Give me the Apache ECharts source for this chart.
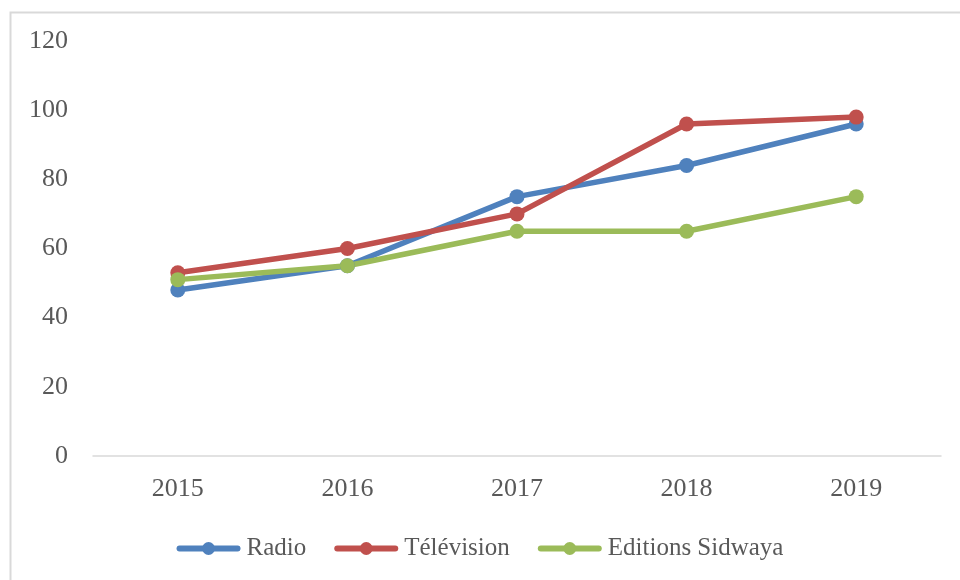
<!DOCTYPE html>
<html><head><meta charset="utf-8">
<script src="https://cdn.jsdelivr.net/npm/echarts@6/dist/echarts.min.js"></script>
<style>html,body{margin:0;padding:0;background:#fff}#c{width:960px;height:580px}</style>
</head><body><div id="c"></div>
<script>
const categories = ['2015','2016','2017','2018','2019'];
const radio = [48, 55, 75, 84, 96];
const television = [53, 60, 70, 96, 98];
const sidwaya = [51, 55, 65, 65, 75];
const seriesNames = ['Radio','Télévision','Editions Sidwaya'];
const colors = ['#4F81BD','#C0504D','#9BBB59'];
const font = 'Liberation Serif';
const chart = echarts.init(document.getElementById('c'));
function mk(name, data, color){
  return {name, type:'line', data, color, symbol:'circle', symbolSize:15,
    lineStyle:{width:5.5, color, cap:'round'}, itemStyle:{color}, z:2, animation:false};
}
chart.setOption({
  animation:false,
  textStyle:{fontFamily:font},
  graphic:[{type:'rect', shape:{x:10.5,y:12.5,width:960,height:580}, style:{fill:'none', stroke:'#d9d9d9', lineWidth:2}, silent:true}],
  grid:{left:93, right:19, top:41, bottom:124},
  legend:{bottom:14, left:'center', itemWidth:58, itemHeight:16, itemGap:28,
    lineStyle:{width:6, cap:'round'},
    textStyle:{fontFamily:font, fontSize:25, color:'#595959', padding:[0,0,0,4]},
    data:seriesNames},
  xAxis:{type:'category', data:categories, boundaryGap:true,
    axisLine:{lineStyle:{color:'#d9d9d9', width:1.5}}, axisTick:{show:false},
    axisLabel:{fontFamily:font, fontSize:26, color:'#595959', margin:20}},
  yAxis:{type:'value', min:0, max:120, interval:20, splitLine:{show:false},
    axisLine:{show:false}, axisTick:{show:false},
    axisLabel:{fontFamily:font, fontSize:26, color:'#595959', margin:25}},
  series:[mk(seriesNames[0], radio, colors[0]), mk(seriesNames[1], television, colors[1]), mk(seriesNames[2], sidwaya, colors[2])]
});
</script></body></html>
